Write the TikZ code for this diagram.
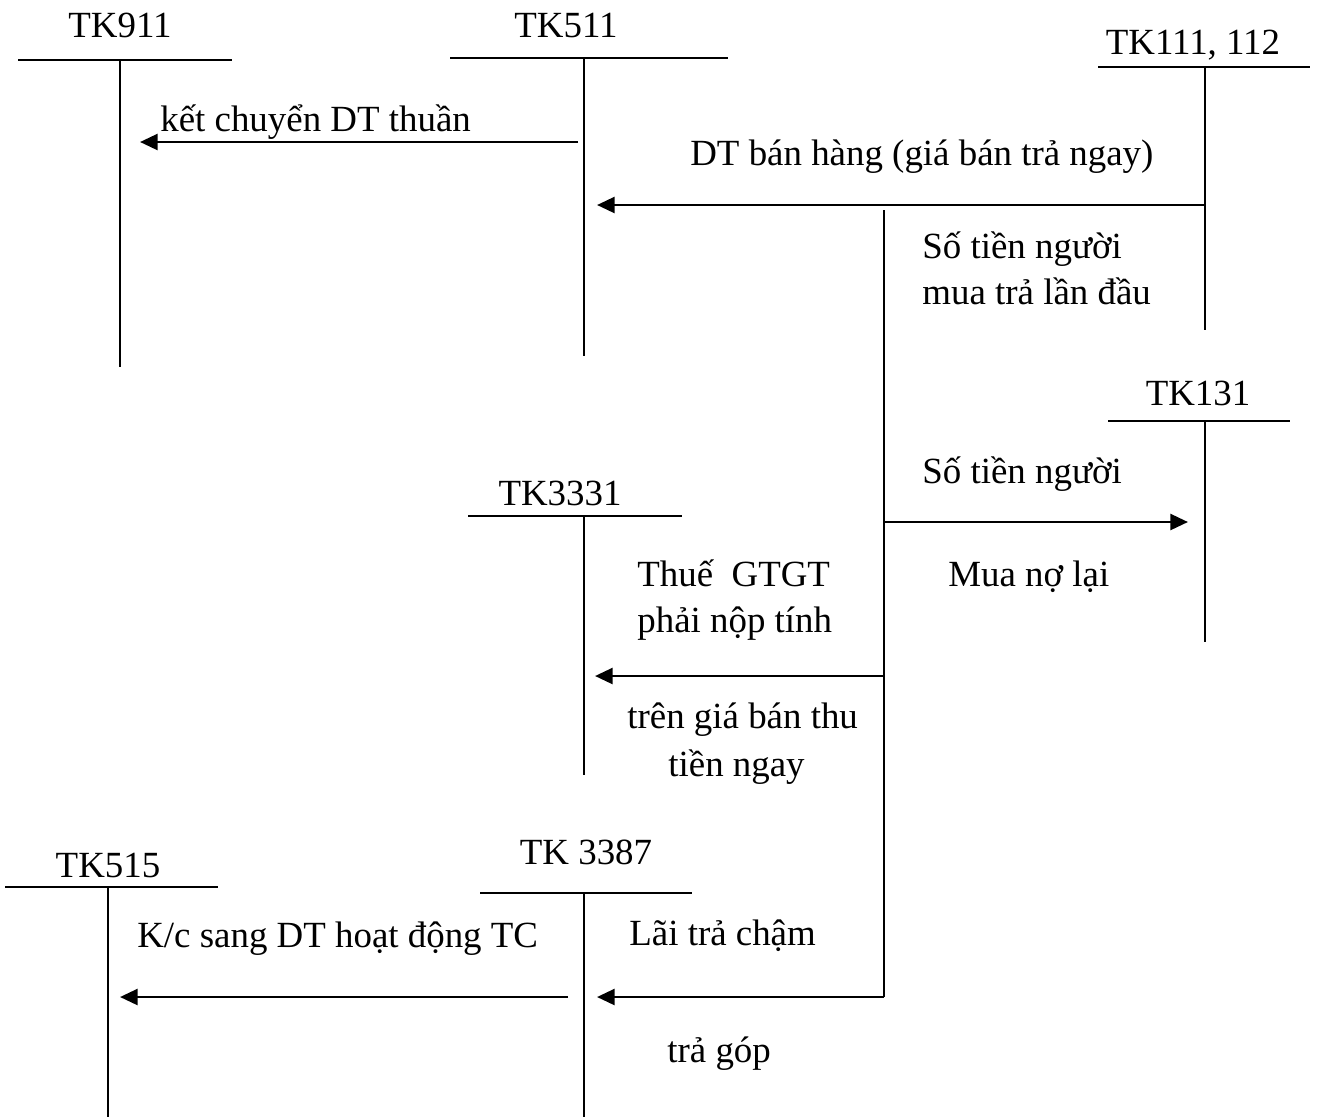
\documentclass[tikz,border=0pt]{standalone}
\usepackage{fontspec}
\setmainfont{Liberation Serif}
\usetikzlibrary{arrows.meta}

\begin{document}
\begin{tikzpicture}[
    x=0.02cm, y=-0.02cm,
    acc/.style={
        anchor=base,
        inner sep=0pt,
        font=\fontsize{21}{25}\selectfont
    },
    note/.style={
        anchor=base west,
        inner sep=0pt,
        font=\fontsize{21}{25}\selectfont
    },
    tline/.style={line width=0.9pt},
    flow/.style={
        line width=1.6pt,
        -{Triangle[length=10pt, width=9pt]}
    }
]
\useasboundingbox (0,0) rectangle (1318,1117);

% T accounts: name/label/label x/label y/bar left/bar right/bar y/stem x/stem end
\foreach \n/\t/\lx/\ly/\l/\r/\h/\s/\e in {
    tk911/TK911/120/37/18/232/60/120/367,
    tk511/TK511/566/37/450/728/58/584/356,
    tk111/{TK111, 112}/1193/54/1098/1310/67/1205/330,
    tk131/TK131/1198/405/1108/1290/421/1205/642,
    tk3331/TK3331/560/505/468/682/516/584/775,
    tk3387/TK 3387/586/864/480/692/893/584/1117,
    tk515/TK515/108/877/5/218/887/108/1117} {
    \node[acc] (\n) at (\lx, \ly) {\t};
    \draw[tline] (\l, \h) -- (\r, \h);
    \coordinate (\n-top) at (\s, \h);
    \coordinate (\n-bot) at (\s, \e);
    \draw[tline] (\n-top) -- (\n-bot);
}

% split line under TK111
\coordinate (split-top) at (884, 210);
\coordinate (split-bot) at (884, 997);
\draw[line width=1.3pt] (split-top) -- (split-bot);

% arrow ends
\coordinate (kc-from) at (578, 142);
\coordinate (kc-to) at (140, 142);
\coordinate (dt-from) at (1205, 205);
\coordinate (dt-to) at (597, 205);
\coordinate (no-from) at (884, 522);
\coordinate (no-to) at (1188, 522);
\coordinate (vat-from) at (884, 676);
\coordinate (vat-to) at (595, 676);
\coordinate (lai-to) at (597, 997);
\coordinate (tc-from) at (568, 997);
\coordinate (tc-to) at (120, 997);

\draw[flow] (kc-from) -- (kc-to);
\draw[flow] (dt-from) -- (dt-to);
\draw[flow] (no-from) -- (no-to);
\draw[flow] (vat-from) -- (vat-to);
\draw[flow] (split-bot) -- (lai-to);
\draw[flow] (tc-from) -- (tc-to);

% labels
\node[note] (kc) at (160, 131) {kết chuyển DT thuần};
\node[note] (dt) at (690, 165) {DT bán hàng (giá bán trả ngay)};
\node[note] (dau1) at (922, 258) {Số tiền người};
\node[note] (dau2) at (922, 304) {mua trả lần đầu};
\node[note] (no1) at (922, 483) {Số tiền người};
\node[note] (no2) at (948, 586) {Mua nợ lại};
\node[note] (vat1) at (637, 586) {Thuế~ GTGT};
\node[note] (vat2) at (637, 632) {phải nộp tính};
\node[note] (vat3) at (627, 728) {trên giá bán thu};
\node[note] (vat4) at (668, 776) {tiền ngay};
\node[note] (tc) at (137, 947) {K/c sang DT hoạt động TC};
\node[note] (lai1) at (629, 945) {Lãi trả chậm};
\node[note] (lai2) at (667, 1062) {trả góp};
\end{tikzpicture}
\end{document}
